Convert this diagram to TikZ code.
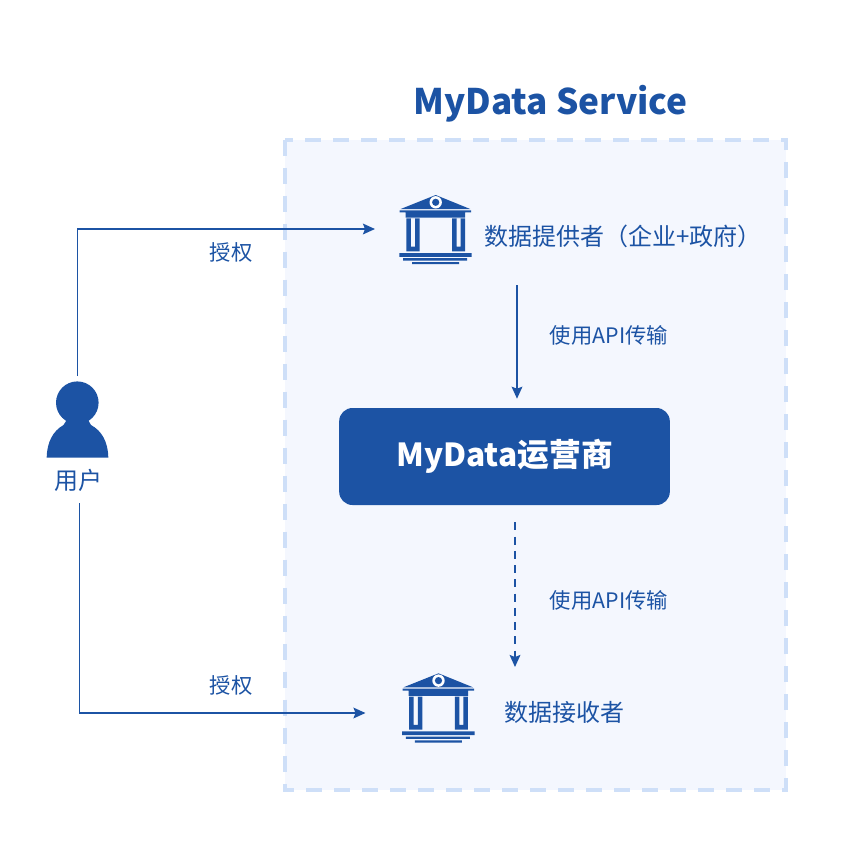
\documentclass[tikz,border=0pt]{standalone}
\usepackage{fontspec}
\setmainfont{Noto Sans CJK SC}
\usetikzlibrary{arrows.meta}
\definecolor{myblue}{RGB}{28,83,164}
\definecolor{mypanel}{RGB}{244,247,254}
\definecolor{mydash}{RGB}{206,223,248}

\begin{document}
\begin{tikzpicture}[x=0.75pt,y=-0.75pt,
  flow/.style={draw=myblue,line width=1.4pt,-{Stealth[length=9pt,width=8pt,inset=1.5pt]}},
  lbl/.style={text=myblue,font=\fontsize{16pt}{20pt}\selectfont,inner sep=0pt},
  biglbl/.style={lbl,font=\fontsize{18pt}{22pt}\selectfont},
  ghost/.style={inner sep=0pt,outer sep=0pt},
  bankicon/.pic={
    \fill[myblue] (0,-34) -- (-35,-20) -- (34.5,-20) -- cycle;
    \fill[white] (0,-26.7) circle[radius=6.2];
    \fill[myblue] (0,-26.7) circle[radius=3.6];
    \fill[myblue] (-36,-18.7) rectangle (35.5,-16.7) (-30,-17) rectangle (29.5,-11.4);
    \fill[myblue,even odd rule] (-29.3,-10.7) rectangle (-16.2,22.3) (-24.8,-10.7) rectangle (-20.6,17.5);
    \fill[myblue,even odd rule] (16.4,-10.7) rectangle (29.3,22.3) (20.8,-10.7) rectangle (24.8,17.5);
    \fill[myblue] (-36.4,24) rectangle (36,27.9) (-32.7,29.2) rectangle (31.3,31.5) (-23.7,33) rectangle (23.3,35.2);
  }]

  % panel and title
  \node[ghost,text=myblue,font=\fontsize{26.4pt}{32pt}\selectfont\bfseries] (title) at (550.5,104) {MyData Service};
  \filldraw[fill=mypanel,draw=mydash,line width=3pt,dash pattern=on 12pt off 9pt] (284.5,139.5) rectangle (786,790);

  % people and banks
  \fill[myblue] (77.3,402.7) circle[radius=21.3];
  \fill[myblue] (46.7,457.5) .. controls (47,442) and (53,431) .. (63.5,425) -- (68,418) -- (87,418) -- (91,425) .. controls (102,431) and (108,442) .. (108.3,457.5) -- cycle;
  \node[ghost,minimum width=40pt,minimum height=61.5pt] (user) at (77.5,417) {};
  \node[biglbl,minimum height=34.5pt] (userlbl) at (78.5,480) {用户};
  \pic at (435.7,229) {bankicon};
  \pic at (438.5,707.3) {bankicon};
  \node[ghost,minimum width=90.75pt,minimum height=40pt] (bankA) at (435.5,229) {};
  \node[ghost,minimum width=111pt,minimum height=40pt] (bankB) at (439.5,713) {};

  \node[biglbl,anchor=west] (provider) at (484,236) {数据提供者（企业+政府）};
  \node[biglbl,anchor=west] (receiver) at (504,712) {数据接收者};

  \node[fill=myblue,rounded corners=10pt,minimum width=248pt,minimum height=72.75pt,text=white,font=\fontsize{23.8pt}{28pt}\selectfont\bfseries] (hub) at (504.5,456.5) {MyData运营商};

  % free ends of the api arrows
  \coordinate (apiA) at (517,285);
  \coordinate (apiB) at (515,667);

  \draw[flow] (user.north) |- (bankA.west);
  \draw[flow] ([xshift=0.75pt]userlbl.south) |- (bankB.west);
  \draw[flow,shorten >=6.75pt] (apiA) -- (apiA |- hub.north);
  \draw[flow,dash pattern=on 6pt off 4.7pt,shorten <=12.75pt] (apiB |- hub.south) -- (apiB);

  \node[lbl] (authA) at (231,252) {授权};
  \node[lbl] (authB) at (231,685) {授权};
  \node[lbl] (apiLblA) at (609,335) {使用API传输};
  \node[lbl] (apiLblB) at (609,600) {使用API传输};

  \useasboundingbox (0,0) rectangle (845,861);
\end{tikzpicture}
\end{document}
